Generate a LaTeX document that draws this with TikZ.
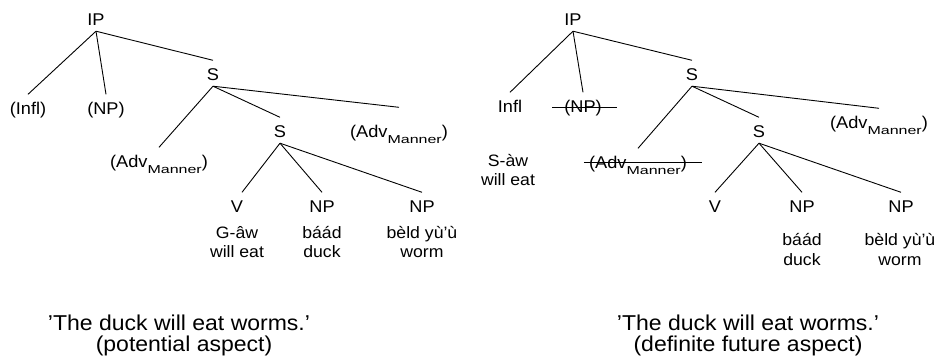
\documentclass[tikz,border=0pt]{standalone}
\usepackage{fontspec}
\usepackage{graphicx}
\setmainfont{Liberation Sans}[FakeStretch=1.07]
\newcommand\mansub{\raisebox{-6pt}{\fontsize{11.5}{12}\selectfont\scalebox{1.3}[1]{Manner}}}
\begin{document}
\begin{tikzpicture}[x=1pt,y=-1pt,
  lab/.style={font=\fontsize{17}{20}\selectfont, inner xsep=2pt, inner ysep=6pt, text height=13.5pt, text depth=0pt, anchor=base},
  gl/.style={font=\fontsize{16.5}{19}\selectfont, inner sep=0pt, anchor=base},
  captxt/.style={font=\fontsize{21.5}{20}\selectfont, inner sep=0pt, anchor=base},
  edge/.style={draw, line width=0.9pt},
  strike/.style={draw, line width=0.9pt}]
\useasboundingbox (0,0) rectangle (942,362);
% ---------- left tree ----------
\node[lab] (IPa) at (96,25) {IP};
\node[lab] (Infla) at (28,114) {(Infl)};
\node[lab] (NPa) at (106,114) {(NP)};
\node[lab] (Sa) at (213,80) {S};
\node[lab] (AdvLa) at (159,167) {(Adv\mansub)};
\node[lab] (Sb) at (280,137) {S};
\node[lab] (AdvRa) at (399,137) {(Adv\mansub)};
\node[lab] (Va) at (237,212) {V};
\node[lab] (NPb) at (322,212) {NP};
\node[lab] (NPc) at (422,212) {NP};
\node[gl] (g1a) at (237,238) {G-âw};
\node[gl] (g1b) at (237,257) {will eat};
\node[gl] (g2a) at (322,238) {báád};
\node[gl] (g2b) at (322,257) {duck};
\node[gl] (g3a) at (422,238) {bèld yù'ù};
\node[gl] (g3b) at (422,257) {worm};
\draw[edge] (IPa.south) -- (Infla.north);
\draw[edge] (IPa.south) -- (NPa.north);
\draw[edge] (IPa.south) -- (Sa.north);
\draw[edge] (Sa.south) -- (AdvLa.north);
\draw[edge] (Sa.south) -- (Sb.north);
\draw[edge] (Sa.south) -- ([yshift=10pt]AdvRa.north);
\draw[edge] (Sb.south) -- ([xshift=5pt]Va.north);
\draw[edge] (Sb.south) -- (NPb.north);
\draw[edge] (Sb.south) -- (NPc.north);
\node[captxt] (c1a) at (179,330) {'The duck will eat worms.'};
\node[captxt] (c1b) at (184,351) {(potential aspect)};
% ---------- right tree ----------
\node[lab] (IPb) at (573,25) {IP};
\node[lab] (Inflb) at (510,112) {Infl};
\node[lab] (NPd) at (583,112) {(NP)};
\node[lab] (Sc) at (692,80) {S};
\node[lab] (AdvLb) at (638,168) {(Adv\mansub)};
\node[lab] (AdvRb) at (879,128) {(Adv\mansub)};
\node[lab] (Sd) at (759,137) {S};
\node[lab] (Vb) at (715,212) {V};
\node[lab] (NPe) at (802,212) {NP};
\node[lab] (NPf) at (901,212) {NP};
\node[gl] (h1a) at (508,166) {S-àw};
\node[gl] (h1b) at (508,185) {will eat};
\node[gl] (h2a) at (802,245) {báád};
\node[gl] (h2b) at (802,265) {duck};
\node[gl] (h3a) at (900,245) {bèld yù'ù};
\node[gl] (h3b) at (900,265) {worm};
\draw[edge] (IPb.south) -- (Inflb.north);
\draw[edge] (IPb.south) -- (NPd.north);
\draw[edge] (IPb.south) -- (Sc.north);
\draw[edge] (Sc.south) -- (AdvLb.north);
\draw[edge] (Sc.south) -- (Sd.north);
\draw[edge] (Sc.south) -- (AdvRb.north);
\draw[edge] (Sd.south) -- (Vb.north);
\draw[edge] (Sd.south) -- (NPe.north);
\draw[edge] (Sd.south) -- (NPf.north);
\draw[strike] ([xshift=-10pt,yshift=5pt]NPd.base west) -- ([xshift=13pt,yshift=5pt]NPd.base east);
\draw[strike] ([xshift=-3pt,yshift=6pt]AdvLb.base west) -- ([xshift=13pt,yshift=6pt]AdvLb.base east);
\node[captxt] (c2a) at (748,330) {'The duck will eat worms.'};
\node[captxt] (c2b) at (748,351) {(definite future aspect)};
\end{tikzpicture}
\end{document}
